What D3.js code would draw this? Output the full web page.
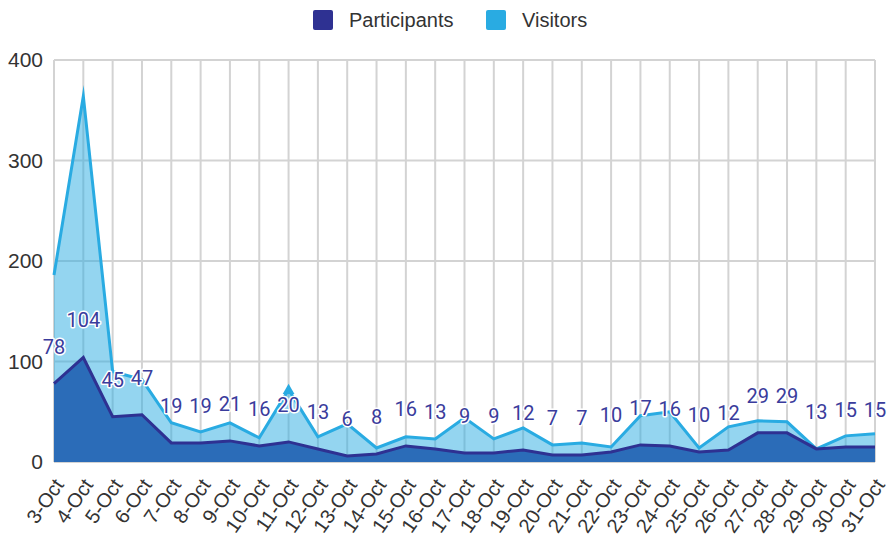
<!DOCTYPE html>
<html>
<head>
    <title>Participants and Visitors</title>
    <meta charset="utf-8">
    <script src="https://d3js.org/d3.v7.min.js"></script>
    <style>
      body { margin: 0; background: #fff; }
    </style>
</head>
<body>
<svg id="chart" width="889" height="536"></svg>
<script>
// data
var days = ['3-Oct','4-Oct','5-Oct','6-Oct','7-Oct','8-Oct','9-Oct','10-Oct','11-Oct','12-Oct',
  '13-Oct','14-Oct','15-Oct','16-Oct','17-Oct','18-Oct','19-Oct','20-Oct','21-Oct','22-Oct',
  '23-Oct','24-Oct','25-Oct','26-Oct','27-Oct','28-Oct','29-Oct','30-Oct','31-Oct'];
var participants = [78,104,45,47,19,19,21,16,20,13,6,8,16,13,9,9,12,7,7,10,17,16,10,12,29,29,13,15,15];
var visitors = [186,364,90,82,39,30,39,24,72,25,38,14,25,23,44,23,34,17,19,15,46,50,14,35,41,40,13,26,28];
var yTicks = [0,100,200,300,400];
var seriesNames = ['Participants','Visitors'];

var colorPart = '#2e3192';
var colorPartFill = '#2b6cb8';
var colorVis = '#29abe2';
var colorGrid = '#d3d3d3';

var svg = d3.select('#chart');
var plotL = 54, plotR = 875, plotT = 60, plotB = 462;

var x = d3.scalePoint().domain(days).range([plotL, plotR]);
var y = d3.scaleLinear().domain([0, 400]).range([plotB, plotT]);

// grid
svg.append('g').selectAll('line').data(yTicks).join('line')
  .attr('x1', plotL).attr('x2', plotR)
  .attr('y1', d => y(d)).attr('y2', d => y(d))
  .attr('stroke', colorGrid).attr('stroke-width', 2);
svg.append('g').selectAll('line').data(days).join('line')
  .attr('x1', d => x(d)).attr('x2', d => x(d))
  .attr('y1', plotT).attr('y2', plotB)
  .attr('stroke', colorGrid).attr('stroke-width', 2);

// y axis labels
svg.append('g').selectAll('text').data(yTicks).join('text')
  .attr('x', 43).attr('y', d => y(d)).attr('dy', '0.35em')
  .attr('text-anchor', 'end')
  .style('font', '21px "Liberation Sans", Arial, sans-serif')
  .attr('fill', '#333')
  .text(d => d);

// x axis labels
svg.append('g').selectAll('text').data(days).join('text')
  .attr('transform', d => 'translate(' + (x(d) + 5) + ',' + 481 + ') rotate(-55)')
  .attr('dy', '0.35em')
  .attr('text-anchor', 'end')
  .style('font', '20px "Liberation Sans", Arial, sans-serif')
  .attr('fill', '#333')
  .text(d => d);

var area = d3.area().x((d, i) => x(days[i])).y0(y(0)).y1(d => y(d));
var line = d3.line().x((d, i) => x(days[i])).y(d => y(d));

svg.append('path').datum(visitors)
  .attr('d', area).attr('fill', colorVis).attr('fill-opacity', 0.5);
svg.append('path').datum(visitors)
  .attr('d', line).attr('fill', 'none').attr('stroke', colorVis)
  .attr('stroke-width', 3).attr('stroke-miterlimit', 10);

svg.append('path').datum(participants)
  .attr('d', area).attr('fill', colorPartFill);
svg.append('path').datum(participants)
  .attr('d', line).attr('fill', 'none').attr('stroke', colorPart)
  .attr('stroke-width', 3);

// hover marker on 11-Oct
var mi = days.indexOf('11-Oct');
svg.append('path')
  .attr('d', d3.symbol(d3.symbolTriangle, 60))
  .attr('transform', 'translate(' + x(days[mi]) + ',' + (y(visitors[mi]) + 1) + ')')
  .attr('fill', colorVis);

// data labels
svg.append('g').selectAll('text').data(participants).join('text')
  .attr('x', (d, i) => x(days[i]))
  .attr('y', d => y(d) - 30)
  .attr('text-anchor', 'middle')
  .style('font', '20px Roboto, sans-serif')
  .attr('fill', '#3a3c9c')
  .attr('stroke', '#fff').attr('stroke-width', 3).attr('paint-order', 'stroke')
  .attr('stroke-linejoin', 'round')
  .text(d => d);

// legend
var legX = [313, 486];
var legColors = [colorPart, colorVis];
var legend = svg.append('g');
seriesNames.forEach(function(name, i) {
  legend.append('rect')
    .attr('x', legX[i]).attr('y', 10).attr('width', 20).attr('height', 20)
    .attr('rx', 2).attr('fill', legColors[i]);
  legend.append('text')
    .attr('x', legX[i] + 36).attr('y', 20).attr('dy', '0.35em')
    .style('font', '20px "Liberation Sans", Arial, sans-serif')
    .attr('fill', '#333')
    .text(name);
});
</script>
</body>
</html>
